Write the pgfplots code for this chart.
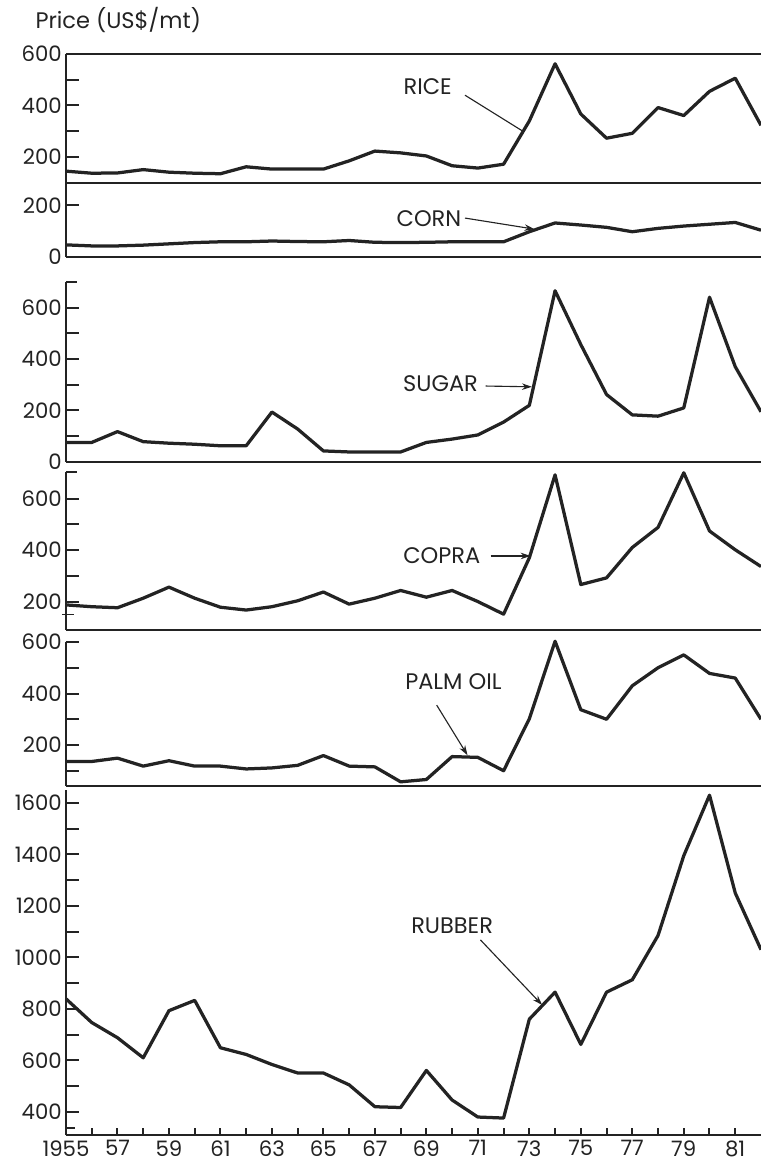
\documentclass[border=0pt]{standalone}
\usepackage{fontspec}
\setmainfont{Poppins}
\usepackage{pgfplots}
\pgfplotsset{compat=1.18}
\usetikzlibrary{arrows.meta}

\definecolor{ink}{RGB}{35,35,35}

\pgfplotstableread{
year rice corn sugar copra palm rubber
1955 145 47 76 187 136 839
1956 137 43 76 180 136 747
1957 138 43 118 176 149 688
1958 151 46 79 213 118 610
1959 141 51 73 256 139 793
1960 137 56 69 213 118 833
1961 135 59 63 178 118 649
1962 162 59 63 167 107 623
1963 153 62 194 180 111 584
1964 153 60 128 203 121 551
1965 153 59 43 237 159 551
1966 185 64 39 190 118 505
1967 223 57 39 213 115 420
1968 216 56 39 243 57 417
1969 204 57 76 217 66 561
1970 166 59 89 243 155 446
1971 157 59 105 200 152 380
1972 172 59 155 151 100 376
1973 340 98 220 370 302 760
1974 562 132 665 692 603 865
1975 367 124 456 266 337 662
1976 273 115 262 292 300 865
1977 292 98 183 410 430 913
1978 392 111 178 488 500 1085
1979 361 120 210 700 550 1395
1980 455 127 640 474 478 1630
1981 506 134 370 401 460 1250
1982 323 104 195 336 300 1030
}\prices

\pgfplotsset{
  panel/.style={
    scale only axis, width=278pt,
    xmin=1955, xmax=1982,
    axis x line*=bottom, axis y line*=left,
    axis line style={-, line width=0.8pt, ink},
    xtick=\empty,
    tick align=inside,
    major tick length=5.2pt,
    tick style={line width=0.8pt, ink},
    yticklabel style={font=\fontsize{8.5}{10}\selectfont, text=ink, inner xsep=1.5pt},
    clip=false,
    /pgf/number format/assume math mode=true,
  },
  serline/.style={line width=1.3pt, ink, line join=round, no marks},
}
\tikzset{
  lab/.style={font=\fontsize{9}{11}\selectfont, text=ink},
  arr/.style={-{Stealth[length=4pt,width=2.6pt]}, line width=0.45pt, ink},
}

\begin{document}
\begin{tikzpicture}

\node[anchor=base west, font=\fontsize{9}{11}\selectfont, text=ink, inner sep=0pt] at (14pt,-11.6pt) {Price (US\$/mt)};

% RICE
\begin{axis}[panel, at={(26.4pt,-21.6pt)}, anchor=north west, height=51.5pt,
  ymin=100, ymax=600, ytick={200,300,400,500,600}, yticklabels={200,,400,,600}]
\addplot[serline] table[x=year, y=rice] {\prices};
\draw[line width=0.8pt, ink] (rel axis cs:0,1) -- (rel axis cs:1,1);
\node[lab] at (axis cs:1969.05,472) {RICE};
\draw[line width=0.45pt, ink] (axis cs:1970.5,440) -- (axis cs:1972.75,300);
\end{axis}

% CORN
\begin{axis}[panel, at={(26.4pt,-73.2pt)}, anchor=north west, height=29.6pt,
  ymin=0, ymax=287, ytick={0,200}, yticklabels={0,200}]
\addplot[serline] table[x=year, y=corn] {\prices};
\node[lab] at (axis cs:1969.1,148) {CORN};
\draw[arr] (axis cs:1970.5,151) -- (axis cs:1973.2,108);
\end{axis}

% SUGAR
\begin{axis}[panel, at={(26.4pt,-112.7pt)}, anchor=north west, height=72.1pt,
  ymin=0, ymax=700, ytick={0,100,...,600}, yticklabels={0,,200,,400,,600}]
\addplot[serline] table[x=year, y=sugar] {\prices};
\draw[line width=0.8pt, ink] (rel axis cs:0,1) -- (rel axis cs:0.016,1);
\node[lab] at (axis cs:1969.55,303) {SUGAR};
\draw[arr] (axis cs:1971.3,295) -- (axis cs:1973.1,292);
\end{axis}

% COPRA
\begin{axis}[panel, at={(26.4pt,-188.6pt)}, anchor=north west, height=63.35pt,
  ymin=90, ymax=705, ytick={200,300,...,600}, yticklabels={200,,400,,600}]
\addplot[serline] table[x=year, y=copra] {\prices};
\draw[line width=0.8pt, ink] (rel axis cs:0,1) -- (rel axis cs:0.016,1);
\draw[line width=0.6pt, ink] (axis cs:1954.85,150) -- (axis cs:1955.3,150);
\node[lab] at (axis cs:1969.6,377) {COPRA};
\draw[arr] (axis cs:1971.5,377) -- (axis cs:1973.05,377);
\end{axis}

% PALM OIL
\begin{axis}[panel, at={(26.4pt,-256.8pt)}, anchor=north west, height=57.68pt,
  ymin=40, ymax=600, ytick={100,200,...,600}, yticklabels={,200,,400,,600}]
\addplot[serline] table[x=year, y=palm] {\prices};
\draw[line width=0.8pt, ink] (rel axis cs:0,1) -- (rel axis cs:0.016,1);
\node[lab] at (axis cs:1970.05,445) {PALM OIL};
\draw[arr] (axis cs:1969.4,355) -- (axis cs:1970.6,160);
\end{axis}

% RUBBER
\begin{axis}[panel, at={(26.4pt,-316pt)}, anchor=north west, height=138.02pt,
  ymin=310, ymax=1650, ytick={400,500,...,1600},
  yticklabels={400,,600,,800,,1000,,1200,,1400,,1600}]
\addplot[serline] table[x=year, y=rubber] {\prices};
\draw[line width=0.6pt, ink] (axis cs:1955,338) -- (axis cs:1955.35,338);
\node[lab] at (axis cs:1970.0,1122) {RUBBER};
\draw[arr] (axis cs:1971.1,1068) -- (axis cs:1973.5,815);
\end{axis}

% x axis ticks for rubber panel
\begin{axis}[scale only axis, width=278pt, height=138.02pt,
  at={(26.4pt,-316pt)}, anchor=north west,
  xmin=1955, xmax=1982, ymin=0, ymax=1,
  axis x line*=bottom, axis y line=none,
  axis line style={-, line width=0.8pt, ink},
  tick align=inside, major tick length=2.8pt,
  tick style={line width=0.8pt, ink},
  xtick={1955,...,1981},
  xticklabels={1955,,57,,59,,61,,63,,65,,67,,69,,71,,73,,75,,77,,79,,81},
  xticklabel style={font=\fontsize{8.5}{10}\selectfont, text=ink, inner ysep=2pt},
  ytick=\empty]
\end{axis}

\pgfresetboundingbox
\path[use as bounding box] (0,0) rectangle (304.4pt,-465.6pt);
\end{tikzpicture}
\end{document}
